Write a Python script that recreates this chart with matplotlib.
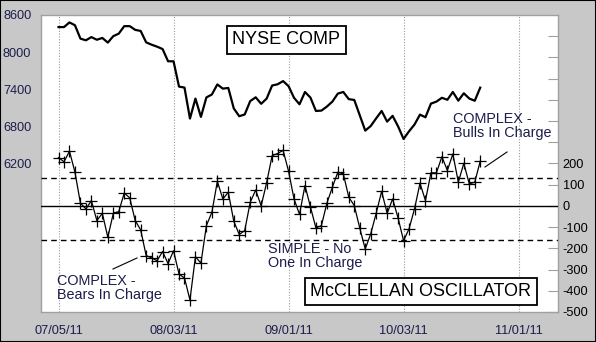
import matplotlib
matplotlib.use("Agg")
import matplotlib.pyplot as plt
from matplotlib.patches import Rectangle
from matplotlib.lines import Line2D

# ---- data (trading-day index 0 = 07/05/11) ----
nyse = [8405, 8405, 8480, 8434, 8218, 8191, 8243, 8200, 8229, 8154,
        8258, 8299, 8420, 8420, 8360, 8342, 8158, 8120, 8088, 8050,
        7852, 7852, 7443, 7427, 6926, 7249, 6953, 7268, 7315, 7478,
        7410, 7421, 7090, 6964, 6993, 7209, 7270, 7165, 7249, 7460,
        7480, 7532, 7450, 7262, 7157, 7356, 7265, 7049, 7055, 7120,
        7200, 7330, 7356, 7240, 7227, 6980, 6732, 6805, 6930, 7049,
        6877, 6970, 6800, 6597, 6720, 6830, 6990, 6947, 7168, 7200,
        7262, 7230, 7356, 7216, 7335, 7250, 7214, 7426]
osc = [228, 208, 258, 159, 13, -14, 25, -69, -35, -148,
       -35, -27, 61, 38, -69, -113, -234, -245, -258, -215,
       -272, -211, -321, -340, -443, -239, -270, -93, -30, 116,
       33, 64, -72, -135, -116, 17, 75, 0, 110, 237,
       247, 262, 164, 33, -40, 96, -5, -104, -93, 13,
       88, 159, 151, 41, 2, -104, -203, -132, -35, 69,
       -35, 33, -57, -164, -108, -14, 107, 25, 156, 156,
       232, 167, 245, 112, 201, 104, 112, 211]
date_pos = [0, 21, 42, 63, 84]
date_labels = ["07/05/11", "08/03/11", "09/01/11", "10/03/11", "11/01/11"]
nyse_ticks = [6200, 6800, 7400, 8000, 8600]
osc_ticks = [-500, -400, -300, -200, -100, 0, 100, 200]
upper_band = 132
lower_band = -159

FONT = "Liberation Sans"
TXT = "#1c1c4c"
plt.rcParams['font.family'] = [FONT, 'DejaVu Sans']

W, H = 596, 342
fig = plt.figure(figsize=(W / 100, H / 100), dpi=100)
fig.patch.set_facecolor("#c8c8c8")
fig.patches.append(Rectangle((0, 0), 1, 1, transform=fig.transFigure,
                             fill=False, edgecolor="black", linewidth=1.5))

L, R, T, B = 41, 558, 15, 312
ax1 = fig.add_axes([L / W, 1 - B / H, (R - L) / W, (B - T) / H])
ax1.set_facecolor("white")
x = list(range(len(nyse)))
ax1.plot(x, nyse, color="black", linewidth=1.6, zorder=3)
ax1.set_ylim(3800, 8600)
ax1.set_xlim(-3.2, 91.2)
ax1.set_yticks(nyse_ticks)
ax1.set_yticklabels([str(v) for v in nyse_ticks])
ax1.tick_params(axis="y", length=0, pad=7, labelsize=9.2, labelcolor=TXT)
ax1.set_xticks(date_pos)
ax1.set_xticklabels(date_labels)
ax1.tick_params(axis="x", length=0, pad=9, labelsize=9.2, labelcolor=TXT)
for p in date_pos:
    ax1.axvline(p, color="#9a9a9a", linestyle=(0, (1, 1.5)), linewidth=0.8, zorder=1)
for s in ax1.spines.values():
    s.set_color("#a0a0a0")
    s.set_linewidth(1.0)

ax2 = ax1.twinx()
ax2.set_ylim(-500, 900)
ax2.set_xlim(-3.2, 91.2)
ax2.axhline(0, color="black", linewidth=1.0, zorder=2)
ax2.axhline(upper_band, color="black", linewidth=1.0, linestyle=(0, (4, 3)), zorder=2)
ax2.axhline(lower_band, color="black", linewidth=1.0, linestyle=(0, (4, 3)), zorder=2)
ax2.plot(x, osc, color="black", linewidth=0.9, marker="+", markersize=8.5,
         markeredgewidth=0.9, zorder=4)
all_ticks = list(range(-500, 900, 100))
ax2.set_yticks(all_ticks)
ax2.set_yticklabels([str(v) if v in osc_ticks else "" for v in all_ticks])
ax2.tick_params(axis="y", direction="in", length=7, color="#a0a0a0", pad=-1,
                labelsize=9.2, labelcolor="black")
for lab in ax2.get_yticklabels():
    lab.set_x(1.0 + 6 / (R - L))
for s in ax2.spines.values():
    s.set_visible(False)

# titles in boxes
fig.text(286.5 / W, 1 - 40 / H, "NYSE COMP", ha="center", va="center",
         fontsize=13, color="black",
         bbox=dict(boxstyle="square,pad=0.28", facecolor="white",
                   edgecolor="black", linewidth=1.3))
fig.text(421 / W, 1 - 291.5 / H, "McCLELLAN OSCILLATOR", ha="center", va="center",
         fontsize=13, color="black",
         bbox=dict(boxstyle="square,pad=0.28", facecolor="white",
                   edgecolor="black", linewidth=1.3))

# annotations
fig.text(57 / W, 1 - 274 / H, "COMPLEX -\nBears In Charge", ha="left", va="top",
         fontsize=10.4, color=TXT, linespacing=1.0)
fig.text(268 / W, 1 - 242 / H, "SIMPLE - No\nOne In Charge", ha="left", va="top",
         fontsize=10.4, color=TXT, linespacing=1.0)
fig.text(453 / W, 1 - 112 / H, "COMPLEX -\nBulls In Charge", ha="left", va="top",
         fontsize=10.4, color=TXT, linespacing=1.0)
fig.lines.append(Line2D([113 / W, 137 / W], [1 - 269 / H, 1 - 258 / H],
                        transform=fig.transFigure, color="black", linewidth=0.8))
fig.lines.append(Line2D([485 / W, 507 / W], [1 - 167 / H, 1 - 152 / H],
                        transform=fig.transFigure, color="black", linewidth=0.8))

fig.savefig("out.png", dpi=100, facecolor=fig.get_facecolor())
